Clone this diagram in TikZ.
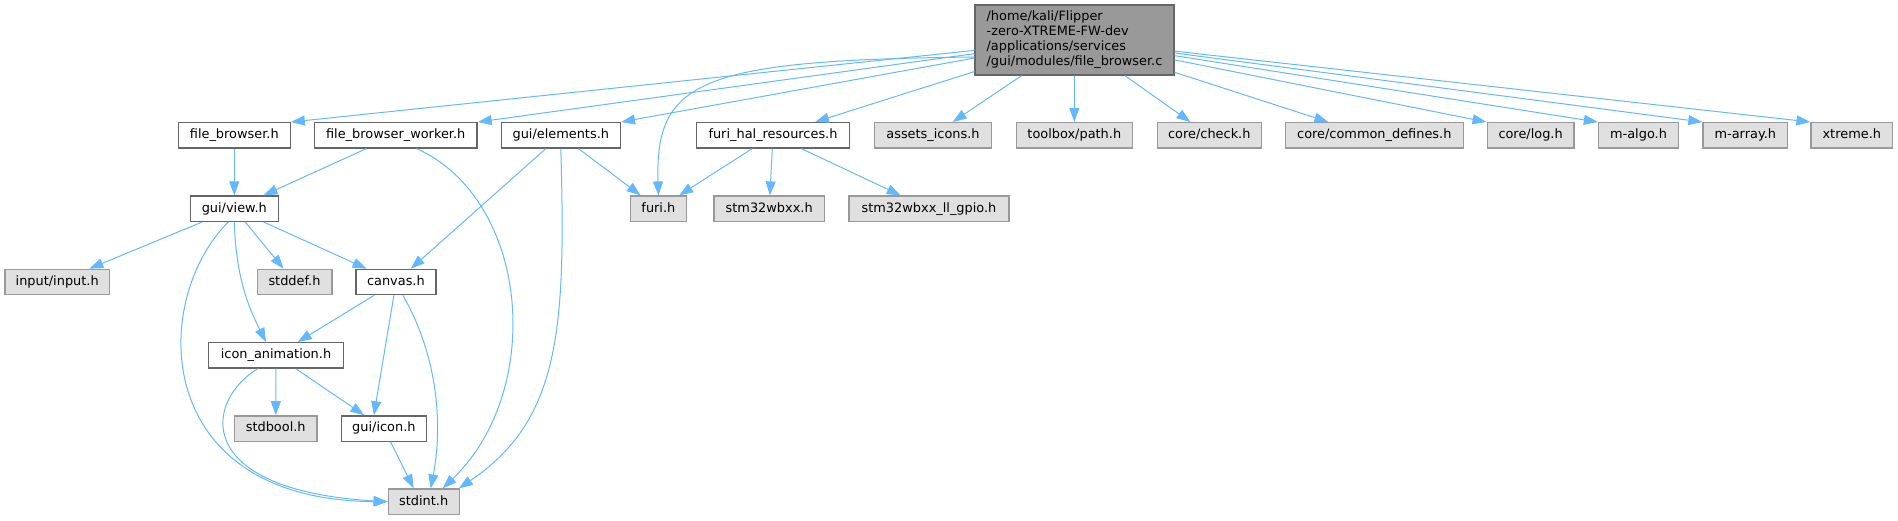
\documentclass[tikz,border=0pt]{standalone}
\usepackage{fontspec}
\setmainfont{DejaVu Sans}
\usetikzlibrary{positioning,arrows.meta,calc}

\definecolor{edgeblue}{HTML}{63B8FF}
\definecolor{boxline}{HTML}{666666}
\definecolor{extfill}{HTML}{E0E0E0}
\definecolor{extline}{HTML}{999999}
\definecolor{mainfill}{HTML}{999999}

\begin{document}
\begin{tikzpicture}[x=1pt,y=-1pt,
    hdr/.style={draw=boxline, line width=1.3pt, fill=white, minimum height=25.3pt,
      inner xsep=1pt, inner ysep=0pt, font=\fontsize{12.9}{15}\selectfont,
      text height=9.6pt, text depth=2.8pt},
    syshdr/.style={hdr, draw=extline, fill=extfill},
    dep/.style={draw=edgeblue, line width=1pt, -{Triangle[length=14pt,width=10pt]}}]
    \useasboundingbox (0,0) rectangle (1898,520);

    % Datei
    \node[draw=boxline, line width=1.3pt, fill=mainfill, align=left,
      minimum width=198.8pt, minimum height=70pt, inner sep=0pt,
      font=\fontsize{12.9}{15}\selectfont] (fbc) at (1074.5,40)
      {/home/kali/Flipper\\-zero-XTREME-FW-dev\\/applications/services\\/gui/modules/file\_browser.c};

    % Ebene 1
    \node[hdr, minimum width=111.8pt] (fbh) at (234.3,135.3) {file\_browser.h};
    \node[hdr, minimum width=162.8pt] (fbw) at (395.7,135.3) {file\_browser\_worker.h};
    \node[hdr, minimum width=119.2pt] (elements) at (560.8,135.3) {gui/elements.h};
    \node[hdr, minimum width=153.5pt] (halres) at (773,135.3) {furi\_hal\_resources.h};
    \node[syshdr, minimum width=117.5pt] (assets) at (933,135.3) {assets\_icons.h};
    \node[syshdr, minimum width=115.9pt] (path) at (1074.3,135.3) {toolbox/path.h};
    \node[syshdr, minimum width=104.3pt] (check) at (1209.3,135.3) {core/check.h};
    \node[syshdr, minimum width=177.9pt] (defines) at (1374.3,135.3) {core/common\_defines.h};
    \node[syshdr, minimum width=86.8pt] (log) at (1530.6,135.3) {core/log.h};
    \node[syshdr, minimum width=80.1pt] (malgo) at (1638.5,135.3) {m-algo.h};
    \node[syshdr, minimum width=84.7pt] (marray) at (1745.3,135.3) {m-array.h};
    \node[syshdr, minimum width=81.4pt] (xtreme) at (1851.8,135.3) {xtreme.h};

    % Ebene 2
    \node[hdr, minimum width=88.2pt] (view) at (234.3,208.7) {gui/view.h};
    \node[syshdr, minimum width=56.3pt] (furi) at (658.4,208.7) {furi.h};
    \node[syshdr, minimum width=110.6pt] (stm) at (769.2,208.7) {stm32wbxx.h};
    \node[syshdr, minimum width=160pt] (gpio) at (929,208.7) {stm32wbxx\_ll\_gpio.h};

    % Ebene 3 bis 6
    \node[syshdr, minimum width=104.5pt] (input) at (57.2,282) {input/input.h};
    \node[syshdr, minimum width=74.7pt] (stddef) at (294.5,282) {stddef.h};
    \node[hdr, minimum width=80pt] (canvas) at (395.9,282) {canvas.h};
    \node[hdr, minimum width=134.7pt] (anim) at (276,355.3) {icon\_animation.h};
    \node[syshdr, minimum width=82.8pt] (stdbool) at (275.7,428.5) {stdbool.h};
    \node[hdr, minimum width=85.3pt] (icon) at (383.9,428.5) {gui/icon.h};
    \node[syshdr, minimum width=71pt] (stdint) at (423.7,501.7) {stdint.h};

    % Kanten von der Datei
    \foreach \dst in {fbh,fbw,elements}
        \draw[dep] (fbc) -- (\dst.north east);
    \foreach \dst in {halres,assets,path,check}
        \draw[dep] (fbc) -- (\dst);
    \draw[dep] (fbc) -- ([xshift=-46pt]defines.north);
    \foreach \dst in {log,malgo,marray,xtreme}
        \draw[dep] (fbc) -- (\dst.north west);
    \draw[dep] ([yshift=-17pt]fbc.west) .. controls (700,60) and (655,80) .. (furi.north);

    % Kanten darunter
    \draw[dep] (fbh) -- (view);
    \draw[dep] (fbw) -- (view);
    \draw[dep] ([xshift=21pt]fbw.south) .. controls (530,200) and (545,390) .. ([xshift=19pt]stdint.north);
    \draw[dep] (elements) -- (canvas);
    \draw[dep] (elements) -- (furi);
    \draw[dep] (elements.south) .. controls (566,330) and (560,420) .. ([xshift=-1pt]stdint.north east);
    \draw[dep] (halres) -- (furi);
    \draw[dep] (halres) -- (stm);
    \draw[dep] (halres) -- (gpio);
    \draw[dep] (view) -- (input);
    \draw[dep] (view) -- (stddef);
    \draw[dep] (view) -- (canvas);
    \draw[dep] (view.south) .. controls (236,280) and (250,310) .. ([xshift=-10pt]anim.north);
    \draw[dep] ([xshift=-6pt]view.south) .. controls (150,300) and (150,500) .. (stdint.west);
    \draw[dep] (canvas) -- (anim);
    \draw[dep] ([xshift=-2pt]canvas.south) -- ([xshift=-10pt]icon.north);
    \draw[dep] ([xshift=7pt]canvas.south) .. controls (440,360) and (442,430) .. ([xshift=7pt]stdint.north);
    \draw[dep] (anim) -- (stdbool);
    \draw[dep] (anim) -- (icon);
    \draw[dep] ([xshift=-18pt]anim.south) .. controls (205,400) and (190,490) .. (stdint.west);
    \draw[dep] (icon) -- ([xshift=-10pt]stdint.north);
\end{tikzpicture}
\end{document}
